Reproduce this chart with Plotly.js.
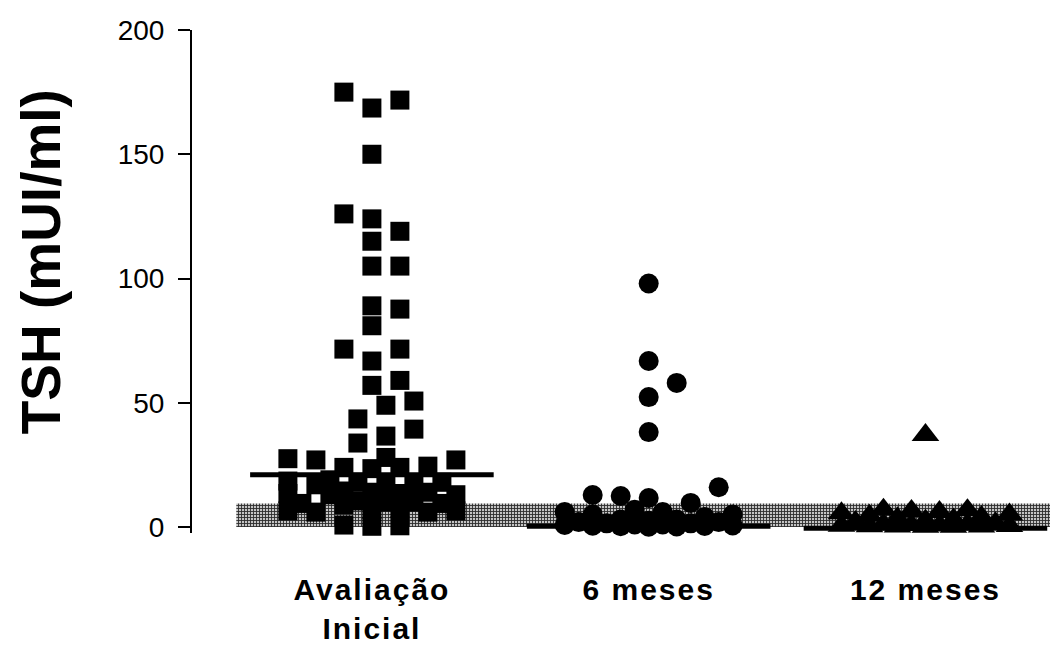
<!DOCTYPE html>
<html>
<head>
<meta charset="utf-8">
<script src="https://cdn.plot.ly/plotly-3.0.1.min.js"></script>
<style>
html,body{margin:0;padding:0;background:#fff;}
#chart{width:1050px;height:653px;}
#chart .xtick text{letter-spacing:2px;}
</style>
</head>
<body>
<div id="chart"></div>
<script>
// ---- data ----
const categories = ['Avaliação<br>Inicial', '6 meses', '12 meses'];
const yTitle = 'TSH (mUI/ml)';
const tshInicial = [175, 171.8, 168.6, 150, 126, 124, 119, 115, 105, 105, 89, 87.7, 81, 71.6, 71.6, 66.8,
  59, 57, 50.7, 49, 43.5, 39.4, 36.6, 33.8,
  28, 27.5, 27, 27,
  24.5, 24, 24, 23.5,
  19, 18.5, 18, 18, 17.5, 17.5, 17,
  14.5, 14, 14, 13.5, 13.5, 13, 13,
  10.5, 10, 10, 9.5, 9.5, 9,
  7.5, 7, 6.5, 6.5, 6, 6,
  0.8, 0.5, 0.3];
const tsh6meses = [98, 66.8, 58, 52.3, 38.2, 16, 12.9, 12.5, 11.7, 9.7, 7, 6, 6, 5, 5, 4, 3, 3, 2.5, 2, 2,
  1.5, 1.5, 1, 1, 0.8, 0.6, 0.5, 0.4, 0.3, 0.2, 0.1];
const tsh12meses = [37, 7, 6.8, 6.5, 6, 5.5, 5, 4.5, 4, 3.5, 3, 2.5, 2, 1.5, 1, 1, 0.8, 0.6, 0.5, 0.4, 0.3,
  0.2, 0.2, 0.1, 0.1];
const medians = [21, 0.3, -0.5];
const refRange = [0, 9.5];
const yTicks = [0, 50, 100, 150, 200];

// ---- layout constants ----
const W = 1050, H = 653;
const margin = {l: 192, r: 0, t: 30, b: 120};
const xRange = [-0.65, 2.45];
const yRange = [-2.4, 200];
const pxX = (W - margin.l - margin.r) / (xRange[1] - xRange[0]);
const pxY = (H - margin.t - margin.b) / (yRange[1] - yRange[0]);

// column-scatter placement (beeswarm-like), computed from the values
function swarm(values, cat, sizePx, stepPx, maxSlots) {
  const order = values.map((v, i) => i).sort((a, b) => values[a] - values[b]);
  const cands = [0];
  for (let k = 1; k <= maxSlots * 2; k++) { cands.push(k / 2, -k / 2); }
  const placed = [];
  const xs = new Array(values.length);
  const rectFree = (ox, py) => !placed.some(p => Math.abs(p.ox - ox) < stepPx * 0.95 && Math.abs(p.py - py) < sizePx);
  const ellFree = (ox, py) => !placed.some(p => {
    const a = (p.ox - ox) / stepPx, b = (p.py - py) / sizePx;
    return Math.sqrt(a * a + b * b) < 0.74;
  });
  order.forEach(idx => {
    const py = values[idx] * pxY;
    let chosen = null;
    for (const c of cands) { if (rectFree(c * stepPx, py)) { chosen = c; break; } }
    if (chosen === null) for (const c of cands) { if (ellFree(c * stepPx, py)) { chosen = c; break; } }
    if (chosen === null) {
      let best = -1;
      for (const c of cands) {
        const ox = c * stepPx;
        let m = Infinity;
        placed.forEach(p => {
          const a = (p.ox - ox) / stepPx, b = (p.py - py) / sizePx;
          const d = Math.sqrt(a * a + b * b);
          if (d < m) m = d;
        });
        if (m > best) { best = m; chosen = c; }
      }
    }
    placed.push({ox: chosen * stepPx, py: py});
    xs[idx] = cat + chosen * stepPx / pxX;
  });
  return xs;
}

const groups = [
  {vals: tshInicial, symbol: 'square', size: 19},
  {vals: tsh6meses, symbol: 'circle', size: 20},
  {vals: tsh12meses, symbol: 'triangle-up', size: 24}
];

const traces = [];
// reference band
traces.push({
  x: [-0.49, xRange[1], xRange[1], -0.49, -0.49],
  y: [refRange[0], refRange[0], refRange[1], refRange[1], refRange[0]],
  mode: 'lines', fill: 'toself', line: {width: 0, color: 'rgba(0,0,0,0)'},
  fillcolor: '#a0a0a0',
  fillpattern: {shape: '+', size: 3, solidity: 0.5, fgcolor: '#2a2a2a', bgcolor: '#c4c4c4', fillmode: 'replace'},
  hoverinfo: 'skip', showlegend: false
});
groups.forEach((g, i) => {
  traces.push({
    x: swarm(g.vals, i, g.size, 28, 3),
    y: g.vals,
    mode: 'markers', type: 'scatter', cliponaxis: false,
    marker: {symbol: g.symbol, size: g.size, color: '#000', line: {width: 0}},
    showlegend: false
  });
});
medians.forEach((m, i) => {
  traces.push({
    x: [i - 0.44, i + 0.44], y: [m, m], mode: 'lines', cliponaxis: false,
    line: {color: '#000', width: 5}, showlegend: false, hoverinfo: 'skip'
  });
});

const layout = {
  width: W, height: H, margin: margin,
  paper_bgcolor: '#fff', plot_bgcolor: '#fff',
  showlegend: false,
  font: {family: 'Liberation Sans, Arial, sans-serif', color: '#000'},
  xaxis: {
    range: xRange, showgrid: false, zeroline: false, showline: false,
    tickvals: [0, 1, 2], ticktext: categories, ticks: '',
    ticklabelstandoff: 36,
    tickfont: {size: 30, weight: 'bold', color: '#000'}
  },
  yaxis: {
    range: yRange, showgrid: false, zeroline: false,
    showline: true, linecolor: '#000', linewidth: 2,
    ticks: 'outside', ticklen: 12, tickwidth: 2, tickcolor: '#000',
    tickvals: yTicks, ticktext: yTicks.map(String),
    ticklabelstandoff: 8,
    tickfont: {size: 28, color: '#000'}
  },
  annotations: [{
    text: yTitle, textangle: -90, showarrow: false,
    xref: 'paper', yref: 'paper', x: -0.176, y: 0.54, xanchor: 'center', yanchor: 'middle',
    font: {size: 55, weight: 'bold', color: '#000'}
  }]
};

Plotly.newPlot('chart', traces, layout, {displayModeBar: false, staticPlot: true});
</script>
</body>
</html>
